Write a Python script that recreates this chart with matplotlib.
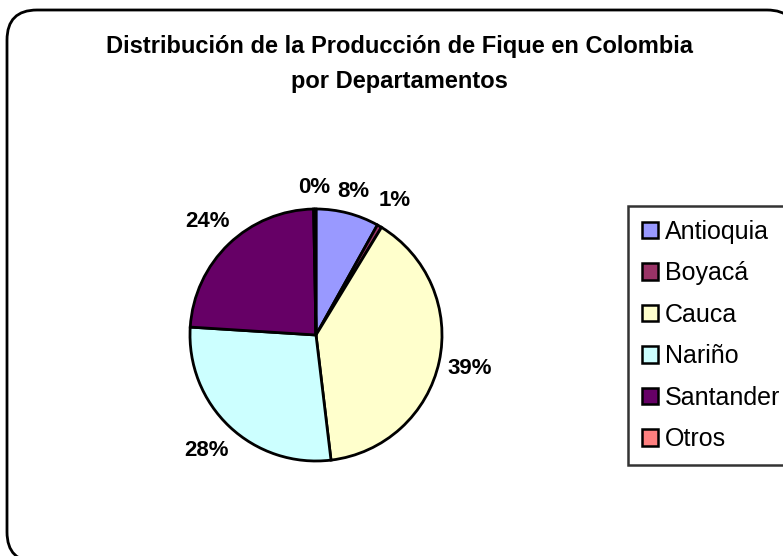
import numpy as np
import matplotlib
matplotlib.use('Agg')
import matplotlib.pyplot as plt
from matplotlib.patches import FancyBboxPatch, Patch

plt.rcParams['font.family'] = ['Liberation Sans', 'DejaVu Sans']

# Datos: distribución de la producción de fique (%)
departamentos = ['Antioquia', 'Boyacá', 'Cauca', 'Nariño', 'Santander', 'Otros']
porcentajes = [8.1, 0.6, 39.4, 27.9, 23.7, 0.3]
etiquetas = ['8%', '1%', '39%', '28%', '24%', '0%']
colores = ['#9999FF', '#993366', '#FFFFCC', '#CCFFFF', '#660066', '#FF8080']

W, H = 783, 556
fig = plt.figure(figsize=(W / 100, H / 100), dpi=100)

# Marco redondeado de fondo (en píxeles)
fondo = fig.add_axes([0, 0, 1, 1])
fondo.set_xlim(0, W)
fondo.set_ylim(0, H)
fondo.axis('off')
marco = FancyBboxPatch((7, -6), 790, 552, boxstyle='round,pad=0,rounding_size=30',
                       facecolor='white', edgecolor='black', linewidth=2.0)
fondo.add_patch(marco)

# Título (dos líneas)
fig.text(399 / W, 1 - 53 / H, 'Distribución de la Producción de Fique en Colombia',
         ha='center', va='baseline', fontsize=17, fontweight='bold')
fig.text(399 / W, 1 - 88 / H, 'por Departamentos',
         ha='center', va='baseline', fontsize=17, fontweight='bold')

# Gráfico circular
cx, cy, r = 316, 335, 126
ax = fig.add_axes([(cx - r) / W, 1 - (cy + r) / H, 2 * r / W, 2 * r / H])
wedges, _ = ax.pie(porcentajes, colors=colores, startangle=90, counterclock=False,
                   wedgeprops=dict(edgecolor='black', linewidth=2.0))
ax.set_xlim(-1, 1)
ax.set_ylim(-1, 1)
ax.set_aspect('equal')

# Etiquetas de porcentaje fuera del círculo
distancias = [1.18, 1.24, 1.25, 1.26, 1.25, 1.17]
for w, txt, d in zip(wedges, etiquetas, distancias):
    ang = np.deg2rad((w.theta1 + w.theta2) / 2)
    ax.text(d * np.cos(ang), d * np.sin(ang), txt, ha='center', va='center',
            fontsize=16, fontweight='bold', clip_on=False)

# Leyenda (se corta por la derecha, como en el original)
handles = [Patch(facecolor=c, edgecolor='black', linewidth=1.8) for c in colores]
leg = fig.legend(handles, departamentos, loc='upper left',
                 bbox_to_anchor=(628 / W, 1 - 206 / H), fontsize=18,
                 handlelength=0.64, handleheight=0.64, handletextpad=0.3,
                 labelspacing=0.7, borderpad=0.55, fancybox=False,
                 frameon=True, borderaxespad=0)
leg.get_frame().set_edgecolor('black')
leg.get_frame().set_linewidth(1.8)

fig.savefig('out.png', dpi=100)
